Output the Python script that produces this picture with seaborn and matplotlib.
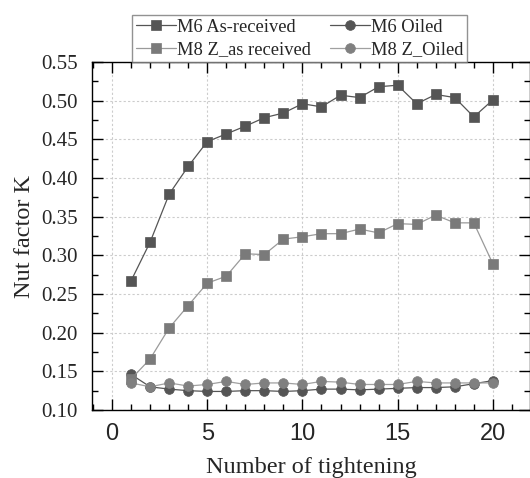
import numpy as np
import pandas as pd
import matplotlib
matplotlib.use("Agg")
import matplotlib.pyplot as plt
import seaborn as sns
from matplotlib.ticker import MultipleLocator

tightening = list(range(1, 21))
m6_as_received = [0.267, 0.317, 0.379, 0.415, 0.447, 0.457, 0.467, 0.478, 0.484, 0.496,
                  0.492, 0.507, 0.504, 0.518, 0.520, 0.496, 0.508, 0.504, 0.479, 0.501]
m6_oiled = [0.146, 0.130, 0.127, 0.125, 0.124, 0.124, 0.125, 0.125, 0.124, 0.125,
            0.127, 0.127, 0.126, 0.127, 0.128, 0.129, 0.129, 0.130, 0.134, 0.138]
m8_as_received = [0.140, 0.166, 0.206, 0.235, 0.264, 0.273, 0.302, 0.301, 0.321, 0.324,
                  0.328, 0.328, 0.334, 0.329, 0.341, 0.340, 0.352, 0.342, 0.342, 0.289]
m8_oiled = [0.135, 0.130, 0.135, 0.131, 0.133, 0.137, 0.133, 0.135, 0.135, 0.133,
            0.137, 0.136, 0.133, 0.133, 0.133, 0.137, 0.135, 0.135, 0.135, 0.135]

series = [
    ("M6 As-received", m6_as_received, "s", "#555555", "#555555"),
    ("M6 Oiled", m6_oiled, "o", "#555555", "#555555"),
    ("M8 Z_as received", m8_as_received, "s", "#7a7a7a", "#9a9a9a"),
    ("M8 Z_Oiled", m8_oiled, "o", "#808080", "#a0a0a0"),
]

sns.set_theme(style="white")
plt.rcParams['font.family'] = ['Liberation Serif', 'DejaVu Serif']
plt.rcParams['mathtext.fontset'] = 'stix'

fig = plt.figure(figsize=(5.30, 4.78), dpi=100)
ax = fig.add_axes([92/530, 68/478, 438/530, 348/478])

for name, vals, mk, mcol, lcol in series:
    df = pd.DataFrame({"x": tightening, "y": vals})
    sns.lineplot(data=df, x="x", y="y", ax=ax, color=lcol, linewidth=0.9,
                 marker=mk, markersize=6.5 if mk == "s" else 7,
                 markerfacecolor=mcol, markeredgecolor=mcol, markeredgewidth=0.5,
                 label=name)

ax.set_xlim(-1.05, 21.95)
ax.set_ylim(0.10, 0.55)
ax.xaxis.set_major_locator(MultipleLocator(5))
ax.xaxis.set_minor_locator(MultipleLocator(1))
ax.yaxis.set_major_locator(MultipleLocator(0.05))
ax.yaxis.set_minor_locator(MultipleLocator(0.025))
ax.yaxis.set_major_formatter(matplotlib.ticker.FormatStrFormatter('%.2f'))

ax.grid(True, which='major', linestyle=(0, (2, 2)), color='#cccccc', linewidth=0.8)
for sp in ax.spines.values():
    sp.set_visible(True)
    sp.set_color('black')
    sp.set_linewidth(1.0)

ax.tick_params(which='both', direction='in', top=True, right=True, bottom=True, left=True, color='black')
ax.tick_params(which='major', length=8, width=1.0)
ax.tick_params(which='minor', length=4, width=1.0)
ax.tick_params(axis='y', labelsize=15, pad=10.5)
ax.tick_params(axis='x', labelsize=17, pad=9)
for lab in ax.get_xticklabels():
    lab.set_fontfamily(['Liberation Sans', 'DejaVu Sans'])

ax.set_xlabel("Number of tightening", fontsize=17.5, labelpad=9)
ax.set_ylabel("Nut factor K", fontsize=17.5, labelpad=4)

h, l = ax.get_legend_handles_labels()
idx = [l.index("M6 As-received"), l.index("M8 Z_as received"), l.index("M6 Oiled"), l.index("M8 Z_Oiled")]
leg = ax.legend([h[i] for i in idx], [l[i] for i in idx], ncol=2, loc='lower left',
                bbox_to_anchor=(40/438, 1.0), borderaxespad=0, frameon=True, fancybox=False,
                edgecolor='#777777', fontsize=13.3, handlelength=2.2, handletextpad=0.05,
                columnspacing=1.0, labelspacing=0.3, borderpad=0.2)
leg.get_frame().set_linewidth(1.0)

fig.savefig("out.png", dpi=100)
